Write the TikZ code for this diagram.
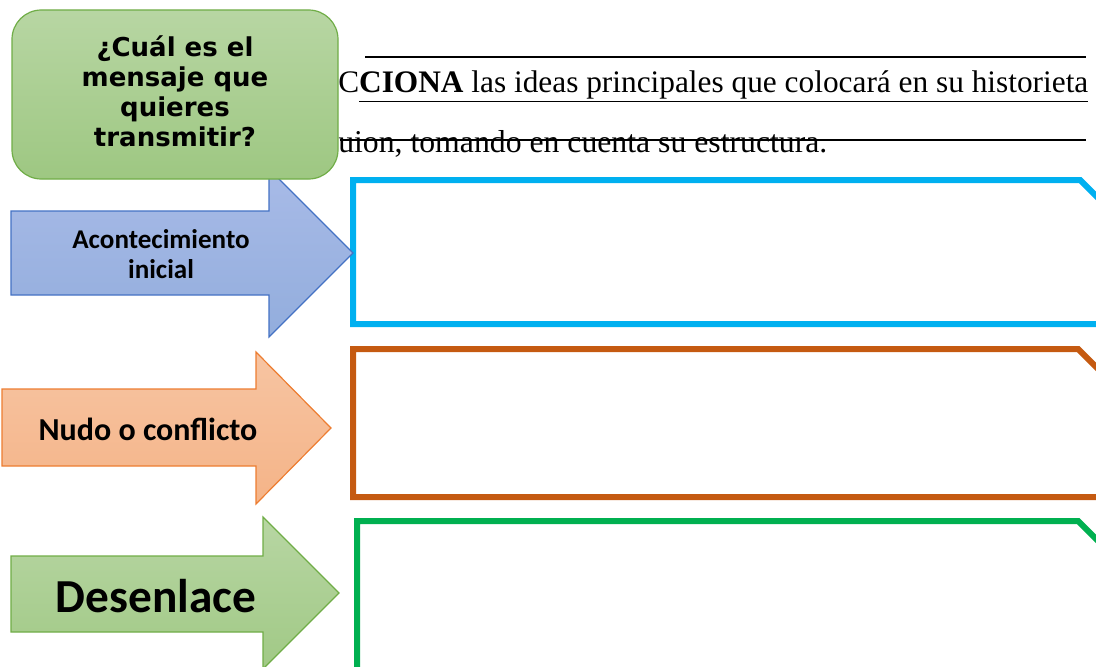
\documentclass[tikz,border=0pt]{standalone}
\usepackage{fontspec}
\setmainfont{Liberation Serif}
\newfontfamily\calibri{Carlito}
\newfontfamily\heavyfont{DejaVu Sans}
\definecolor{boxblue}{HTML}{00B0F0}
\definecolor{boxorange}{HTML}{C55A11}
\definecolor{boxgreen}{HTML}{00B050}
\definecolor{arrblue}{HTML}{4472C4}
\definecolor{arrorange}{HTML}{ED7D31}
\definecolor{arrgreen}{HTML}{70AD47}
\tikzset{
	frame/.style={line width=4.5pt, line join=miter},
	bluearrow/.style={draw=arrblue, line width=0.9pt, top color=blue!10!arrblue!45, bottom color=arrblue!58},
	orangearrow/.style={draw=arrorange, line width=0.9pt, top color=arrorange!45, bottom color=arrorange!58},
	greenarrow/.style={draw=arrgreen, line width=0.9pt, top color=arrgreen!50, bottom color=arrgreen!66},
	arrowtext/.style={font=\calibri\bfseries, align=center, text=black}
}

\begin{document}
\begin{tikzpicture}[x=0.75pt, y=-0.75pt]
			%%%%% START %%%%%
			\useasboundingbox (0, 0) rectangle (1096, 667);
			
			% writing lines and instruction
			\draw[line width=0.9pt] (365, 57) -- (1086, 57);
			\node[anchor=base west, inner sep=0, font=\fontsize{23.5}{27}\selectfont] (instr1) at (338, 93)
				{C\underline{\textbf{CIONA} las ideas principales que colocará en su historieta}};
			\node[anchor=base west, inner sep=0, font=\fontsize{23.8}{27}\selectfont] (instr2) at (338, 152)
				{uion, tomando en cuenta su estructura.};
			\draw[line width=0.9pt] (340, 140) -- (1086, 140);
			
			% frames
			\draw[frame, color=boxblue] (1120, 324) -- (353, 324) -- (353, 180) -- (1080, 180) -- (1126, 226);
			\draw[frame, color=boxorange] (1120, 497) -- (353, 497) -- (353, 349) -- (1078, 349) -- (1126, 397);
			\draw[frame, color=boxgreen] (357, 690) -- (357, 521) -- (1078, 521) -- (1126, 569);
			
			% arrows
			\draw[bluearrow] (11, 211) -- (269, 211) -- (269, 169) -- (353, 253) -- (269, 337) -- (269, 295) -- (11, 295) -- cycle;
			\node[arrowtext, font=\calibri\bfseries\fontsize{20.3}{23}\selectfont] (inicio) at (161, 254) {Acontecimiento\\inicial};
			
			\draw[orangearrow] (2, 389) -- (256, 389) -- (256, 352) -- (331, 428) -- (256, 504) -- (256, 466) -- (2, 466) -- cycle;
			\node[arrowtext, font=\calibri\bfseries\fontsize{24}{27}\selectfont] (nudo) at (148, 429) {Nudo o conflicto};
			
			\draw[greenarrow] (11, 556) -- (263, 556) -- (263, 517) -- (339, 593) -- (263, 669) -- (263, 632) -- (11, 632) -- cycle;
			\node[arrowtext, font=\calibri\bfseries\fontsize{35.5}{40}\selectfont] (desenlace) at (156, 596) {Desenlace};
			
			% question box
			\draw[draw=arrgreen, line width=0.9pt, rounded corners=22pt, top color=arrgreen!50, bottom color=arrgreen!68] (12, 10) rectangle (338, 179);
			\node[align=center, font=\heavyfont\bfseries\fontsize{19.5}{22.5}\selectfont] (mensaje) at (175, 91)
				{¿Cuál es el\\mensaje que\\quieres\\transmitir?};
			
			%%%%% END %%%%%
\end{tikzpicture}
\end{document}
